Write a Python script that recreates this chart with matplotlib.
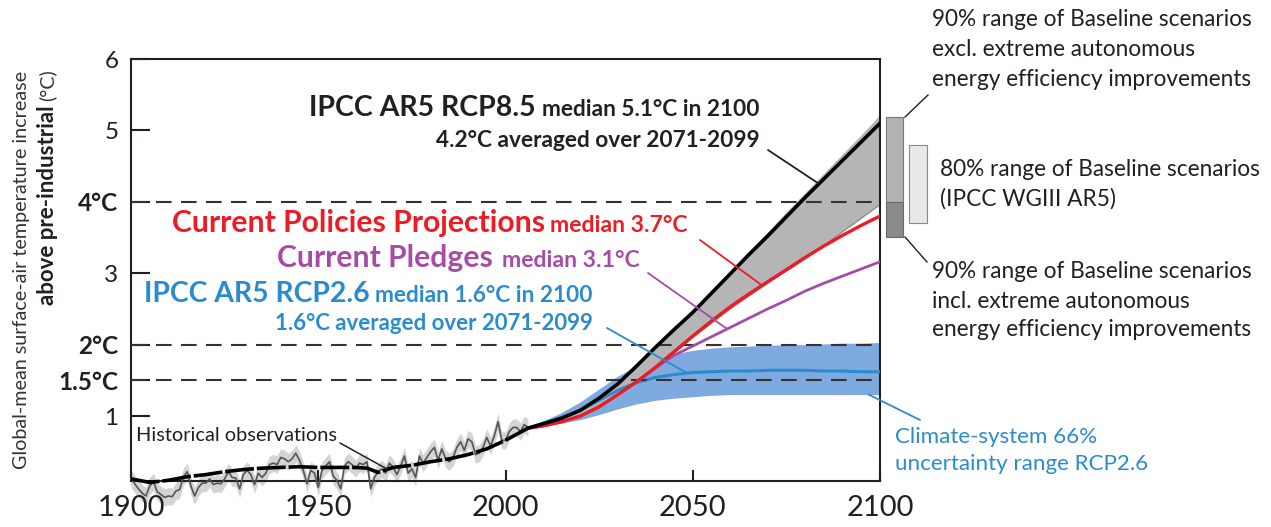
import numpy as np
import matplotlib
matplotlib.use("Agg")
import matplotlib.pyplot as plt
from matplotlib.patches import Rectangle

# ---------------- data ----------------
hist_years = list(range(1900, 2007))
hist_obs = [
    0.12, 0.05, -0.02, -0.08, -0.12, 0.02, 0.08, -0.06, -0.10, -0.14,
    -0.12, -0.13, -0.05, -0.03, 0.15, 0.22, 0.02, -0.12, 0.00, 0.06,
    0.06, 0.12, 0.04, 0.06, 0.05, 0.12, 0.22, 0.14, 0.13, -0.02,
    0.18, 0.24, 0.18, 0.04, 0.20, 0.14, 0.20, 0.32, 0.34, 0.32,
    0.42, 0.40, 0.36, 0.40, 0.48, 0.38, 0.24, 0.05, 0.24, 0.20,
    0.00, 0.24, 0.30, 0.36, 0.16, 0.10, -0.02, 0.30, 0.36, 0.32,
    0.26, 0.34, 0.32, 0.36, -0.02, 0.14, 0.22, 0.26, 0.20, 0.34,
    0.28, 0.18, 0.30, 0.44, 0.20, 0.26, 0.14, 0.44, 0.34, 0.42,
    0.50, 0.56, 0.38, 0.54, 0.40, 0.36, 0.42, 0.56, 0.64, 0.52,
    0.68, 0.64, 0.46, 0.48, 0.56, 0.70, 0.58, 0.72, 0.92, 0.66,
    0.66, 0.78, 0.84, 0.84, 0.78, 0.88, 0.84,
]
smooth_years = [1900, 1905, 1910, 1915, 1920, 1925, 1930, 1935, 1940, 1945,
                1950, 1955, 1960, 1963, 1966, 1970, 1975, 1980, 1985, 1990,
                1995, 2000, 2006]
hist_smooth = [0.12, 0.07, 0.10, 0.15, 0.18, 0.22, 0.25, 0.27, 0.28, 0.29,
               0.28, 0.28, 0.28, 0.27, 0.21, 0.28, 0.31, 0.36, 0.40, 0.46,
               0.54, 0.66, 0.83]

proj_years = [2006, 2010, 2015, 2020, 2025, 2030, 2035, 2040, 2045, 2050,
              2055, 2060, 2065, 2070, 2075, 2080, 2085, 2090, 2095, 2100]
rcp85_median = [0.83, 0.89, 0.97, 1.08, 1.25, 1.45, 1.70, 1.96, 2.21, 2.45,
                2.72, 2.99, 3.26, 3.52, 3.79, 4.06, 4.32, 4.58, 4.84, 5.10]
rcp85_high = [0.83, 0.90, 0.98, 1.10, 1.27, 1.48, 1.73, 2.00, 2.25, 2.50,
              2.77, 3.04, 3.31, 3.58, 3.86, 4.13, 4.40, 4.67, 4.94, 5.22]
rcp85_low = [0.83, 0.87, 0.92, 0.99, 1.11, 1.28, 1.46, 1.67, 1.88, 2.10,
             2.30, 2.50, 2.68, 2.86, 3.03, 3.20, 3.39, 3.58, 3.77, 3.96]
current_policies = [0.83, 0.86, 0.92, 1.00, 1.13, 1.30, 1.48, 1.68, 1.90, 2.12,
                    2.33, 2.53, 2.71, 2.88, 3.05, 3.22, 3.38, 3.53, 3.67, 3.80]
current_pledges = [0.83, 0.86, 0.92, 1.00, 1.13, 1.30, 1.48, 1.67, 1.85, 1.98,
                   2.11, 2.24, 2.37, 2.50, 2.62, 2.75, 2.86, 2.96, 3.06, 3.16]
rcp26_median = [0.83, 0.90, 0.98, 1.08, 1.22, 1.36, 1.47, 1.54, 1.58, 1.61,
                1.62, 1.63, 1.63, 1.64, 1.64, 1.64, 1.63, 1.63, 1.62, 1.62]
rcp26_high = [0.83, 0.93, 1.05, 1.20, 1.38, 1.56, 1.70, 1.80, 1.87, 1.92,
              1.95, 1.97, 1.98, 1.99, 2.00, 2.00, 2.01, 2.02, 2.02, 2.03]
rcp26_low = [0.83, 0.86, 0.90, 0.95, 1.02, 1.10, 1.17, 1.22, 1.25, 1.27,
             1.29, 1.30, 1.30, 1.30, 1.30, 1.30, 1.30, 1.30, 1.30, 1.30]

baseline_excl_range = [4.00, 5.19]   # 90% range excl. extreme AEEI (upper part)
baseline_incl_range = [3.51, 4.00]   # extension incl. extreme AEEI
baseline_80_range = [3.70, 4.80]     # 80% range IPCC WGIII AR5

threshold_levels = [1.5, 2.0, 4.0]
ytick_values = [1, 1.5, 2, 3, 4, 5, 6]
ytick_labels = ["1", "1.5°C", "2°C", "3", "4°C", "5", "6"]
xtick_values = [1900, 1950, 2000, 2050, 2100]
xtick_labels = ["1900", "1950", "2000", "2050", "2100"]

# ---------------- style ----------------
plt.rcParams["font.family"] = ["Lato", "DejaVu Sans"]
W, H = 1271, 527
BLACK = "#231f20"
RED = "#ed1c24"
PURPLE = "#a64ca6"
BLUE = "#2a8ccf"
BAND_BLUE = "#7eaae0"
GRAY_BAND = "#b5b5b8"

fig = plt.figure(figsize=(W / 100, H / 100), dpi=100)
ax = fig.add_axes([131 / W, 1 - 481 / H, (880 - 131) / W, (481 - 59) / H])
ax.set_xlim(1900, 2100)
ax.set_ylim(0.09, 6)
renderer = fig.canvas.get_renderer()

def fx(px):
    return px / W

def fy(py):
    return 1 - py / H

def fit(sample, width_px, weight="bold"):
    t = fig.text(0, 0, sample, fontsize=20, fontweight=weight)
    w = t.get_window_extent(renderer).width
    t.remove()
    return 20 * width_px / w

# historical
obs = np.array(hist_obs)
ax.fill_between(hist_years, obs - 0.12, obs + 0.12, color="#d4d4d4", lw=0,
                clip_on=False, zorder=1)
ax.plot(hist_years, hist_obs, color="#555555", lw=1.2, clip_on=False, zorder=3)
ax.plot(smooth_years, hist_smooth, color="black", lw=2.6, ls=(0, (8, 0.8)),
        clip_on=False, zorder=4)

# projections
ax.fill_between(proj_years, rcp26_low, rcp26_high, color=BAND_BLUE, lw=0, zorder=1.5)
ax.fill_between(proj_years, rcp85_low, rcp85_high, color=GRAY_BAND, lw=0, zorder=2)
ax.plot(proj_years, rcp85_low, color="#8a8a8a", lw=0.8, zorder=2.1)
ax.plot(proj_years, rcp26_median, color=BLUE, lw=2.2, zorder=3)
ax.plot(proj_years, current_pledges, color=PURPLE, lw=2.0, zorder=4)
ax.plot(proj_years, current_policies, color=RED, lw=2.4, zorder=4.5)
ax.plot(proj_years, rcp85_median, color="black", lw=2.6, zorder=5)

for lvl in threshold_levels:
    ax.axhline(lvl, color="#333333", lw=1.5, ls=(0, (7.5, 4.5)), zorder=3.5)

# baseline range bars (drawn to the right of 2100)
ax.add_patch(Rectangle((2101.6, baseline_excl_range[0]), 4.5,
                       baseline_excl_range[1] - baseline_excl_range[0],
                       facecolor="#b3b3b5", edgecolor="#7a7a7a", lw=0.8, clip_on=False))
ax.add_patch(Rectangle((2101.6, baseline_incl_range[0]), 4.5,
                       baseline_incl_range[1] - baseline_incl_range[0],
                       facecolor="#8b8b8d", edgecolor="#6a6a6a", lw=0.8, clip_on=False))
ax.add_patch(Rectangle((2107.7, baseline_80_range[0]), 4.8,
                       baseline_80_range[1] - baseline_80_range[0],
                       facecolor="#e9e9e9", edgecolor="#8a8a8a", lw=0.8, clip_on=False))

# axes styling
for s in ax.spines.values():
    s.set_linewidth(1.5)
    s.set_color(BLACK)
ax.set_yticks(ytick_values)
ax.set_yticklabels(ytick_labels)
ax.set_xticks(xtick_values)
ax.set_xticklabels(xtick_labels)
ax.tick_params(axis="y", direction="in", length=14, width=1.5, pad=9,
               labelsize=17.5, colors=BLACK)
ax.tick_params(axis="x", direction="in", length=8, width=1.5, pad=10,
               labelsize=21, colors=BLACK)
for lab in ax.get_yticklabels():
    if "°C" in lab.get_text():
        lab.set_fontweight("bold")

# y-axis title
s1 = fit("Global-mean surface-air temperature increase", 400, weight="normal")
fig.text(fx(22), fy(270), "Global-mean surface-air temperature increase",
         rotation=90, ha="center", va="center", fontsize=s1, color="#333333")
s2 = fit("above pre-industrial", 200)
fig.text(fx(47), fy(305), "above pre-industrial", rotation=90, rotation_mode="anchor",
         ha="left", va="center", fontsize=s2, fontweight="bold", color=BLACK)
fig.text(fx(47), fy(101), "(°C)", rotation=90, rotation_mode="anchor",
         ha="left", va="center", fontsize=s1, color="#333333")

# ---------------- headline texts (each fitted to its width) ----------------
def put(text, x, y, width, color, ha="left", weight="bold"):
    size = fit(text, width, weight)
    fig.text(fx(x), fy(y), text, fontsize=size, color=color, ha=ha,
             va="baseline", fontweight=weight)

put("IPCC AR5 RCP8.5", 309, 116, 228, BLACK)
put("median 5.1°C in 2100", 542, 116, 218, BLACK)
put("4.2°C averaged over 2071-2099", 760, 147, 323, BLACK, ha="right")
put("Current Policies Projections", 172, 232, 373, RED)
put("median 3.7°C", 550, 232, 138, RED)
put("Current Pledges", 277, 267, 216, PURPLE)
put("median 3.1°C", 502, 267, 138, PURPLE)
put("IPCC AR5 RCP2.6", 144, 302, 226, BLUE)
put("median 1.6°C in 2100", 375, 302, 218, BLUE)
put("1.6°C averaged over 2071-2099", 593, 330, 318, BLUE, ha="right")

# leader lines to curves
def leader(px, py, year, series_years, series, color, lw=1.3):
    val = np.interp(year, series_years, series)
    ax.annotate("", xy=(year, val), xycoords="data",
                xytext=(fx(px), fy(py)), textcoords="figure fraction",
                arrowprops=dict(arrowstyle="-", color=color, lw=lw,
                                shrinkA=0, shrinkB=0), zorder=6,
                annotation_clip=False)

leader(768, 150, 2083.7, proj_years, rcp85_median, BLACK)
leader(700, 240, 2068.5, proj_years, current_policies, RED)
leader(648, 273, 2059.2, proj_years, current_pledges, PURPLE)
leader(607, 328, 2048.5, proj_years, rcp26_median, BLUE)
leader(920, 420, 2097.0, proj_years, rcp26_low, BLUE)
leader(340, 443, 1968.5, smooth_years, hist_smooth, BLACK, lw=1.1)

# historical label
put("Historical observations", 136, 441, 202, BLACK, weight="normal")

# right-side annotations
RT = fit("90% range of Baseline scenarios", 321, weight="normal")
for i, s in enumerate(["90% range of Baseline scenarios",
                       "excl. extreme autonomous",
                       "energy efficiency improvements"]):
    fig.text(fx(932), fy(20 + 30 * i), s, fontsize=RT, color=BLACK, va="center")
for i, s in enumerate(["80% range of Baseline scenarios", "(IPCC WGIII AR5)"]):
    fig.text(fx(940), fy(170 + 29 * i), s, fontsize=RT, color=BLACK, va="center")
for i, s in enumerate(["90% range of Baseline scenarios",
                       "incl. extreme autonomous",
                       "energy efficiency improvements"]):
    fig.text(fx(932), fy(272 + 29 * i), s, fontsize=RT, color=BLACK, va="center")
BT = fit("uncertainty range RCP2.6", 253, weight="normal")
for i, s in enumerate(["Climate-system 66%", "uncertainty range RCP2.6"]):
    fig.text(fx(895), fy(437 + 27 * i), s, fontsize=BT, color=BLUE, va="center")

fig.add_artist(plt.Line2D([fx(905), fx(928)], [fy(117), fy(95)], color=BLACK, lw=1.0))
fig.add_artist(plt.Line2D([fx(905), fx(927)], [fy(237), fy(262)], color=BLACK, lw=1.0))

fig.savefig("out.png", dpi=100)
